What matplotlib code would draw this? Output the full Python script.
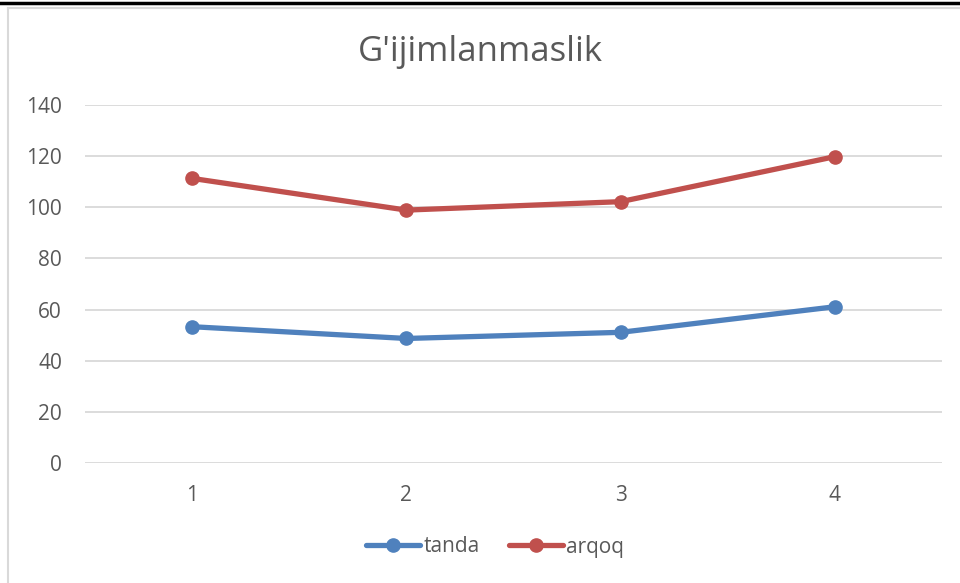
import matplotlib.pyplot as plt
from matplotlib.lines import Line2D

categories = ['1', '2', '3', '4']
tanda = [53.3, 48.7, 51.1, 61.1]
arqoq = [111.3, 98.9, 102.2, 119.8]
yticks = [0, 20, 40, 60, 80, 100, 120, 140]

plt.rcParams['font.family'] = ['Open Sans', 'DejaVu Sans']

fig = plt.figure(figsize=(9.6, 5.83), dpi=100)
W, H = 960, 583
ax = fig.add_axes([85 / W, 1 - 463 / H, (942 - 85) / W, (463 - 105) / H])

x = list(range(1, len(categories) + 1))
ax.plot(x, tanda, color='#4f81bd', lw=3.8, marker='o', ms=9.5, solid_capstyle='round', label='tanda', zorder=3)
ax.plot(x, arqoq, color='#c0504d', lw=3.8, marker='o', ms=9.5, solid_capstyle='round', label='arqoq', zorder=3)

ax.set_xlim(0.5, 4.5)
ax.set_ylim(0, 140)
ax.set_yticks(yticks)
ax.set_xticks(x)
ax.set_xticklabels(categories)
ax.grid(axis='y', color='#d9d9d9', lw=1.3)
ax.set_axisbelow(True)
for s in ax.spines.values():
    s.set_visible(False)
ax.tick_params(length=0, labelsize=15, colors='#595959')
ax.tick_params(axis='y', pad=16.5)
ax.tick_params(axis='x', pad=16)

fig.text(0.5, 1 - 52 / H, "G'ijimlanmaslik", ha='center', va='center', fontsize=25, color='#595959')

ax.legend(loc='center', bbox_to_anchor=(495 / W, 1 - 547 / H), bbox_transform=fig.transFigure,
          ncol=2, frameon=False, fontsize=15, labelcolor='#595959', handlelength=2.6,
          handletextpad=0.15, columnspacing=1.4)

# frame lines like the source screenshot
fig.add_artist(Line2D([0, 1], [1 - 3 / H, 1 - 3 / H], color='black', lw=2.5))
fig.add_artist(Line2D([8 / W, 1], [1 - 7.5 / H, 1 - 7.5 / H], color='#d9d9d9', lw=1.5))
fig.add_artist(Line2D([8 / W, 8 / W], [0, 1 - 7.5 / H], color='#d9d9d9', lw=1.5))

fig.savefig('out.png', dpi=100)
